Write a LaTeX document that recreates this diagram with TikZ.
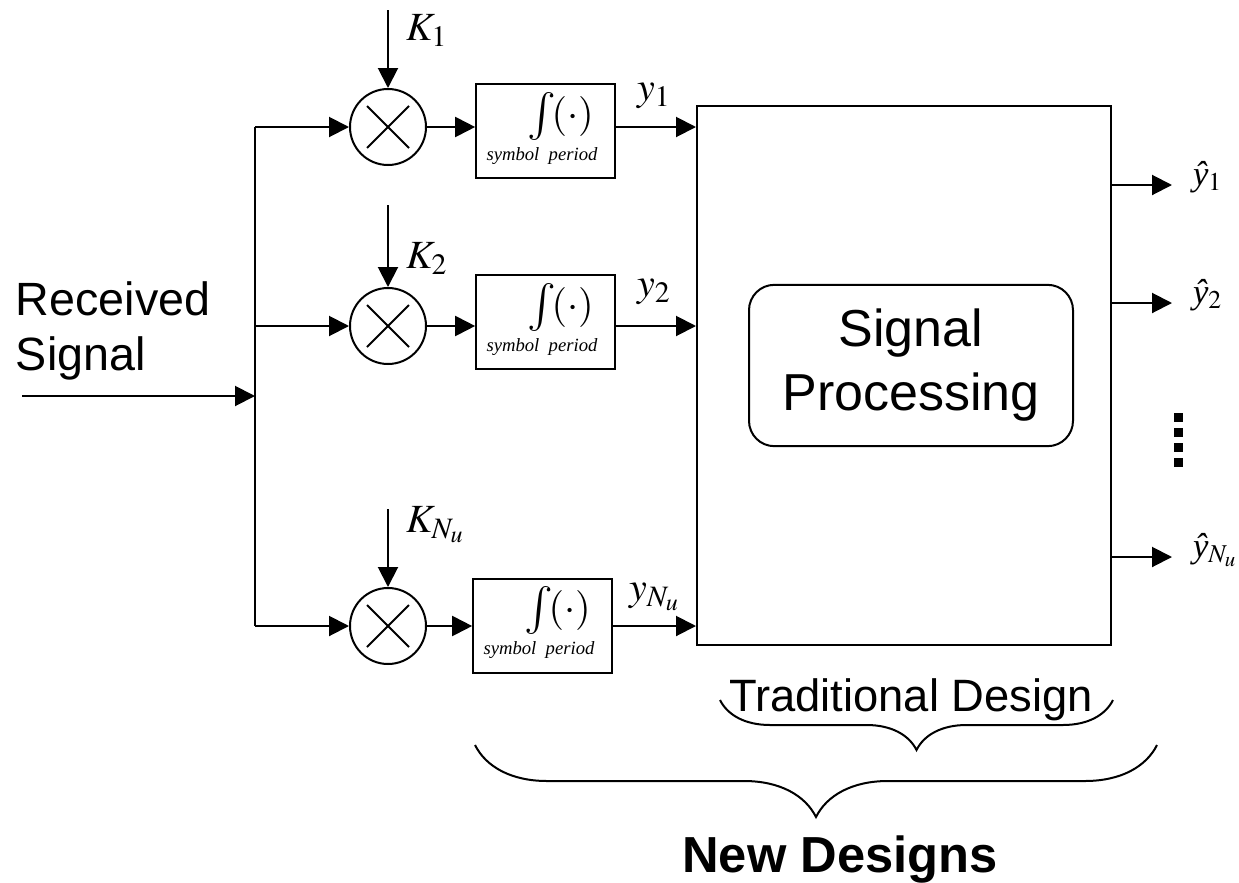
\documentclass[tikz,border=0pt]{standalone}
\usepackage{mathptmx}
\usepackage[no-math]{fontspec}
\setmainfont{Liberation Sans}
\newfontfamily\tmsfont{Liberation Serif}
\usetikzlibrary{arrows.meta,decorations.pathreplacing,calc}

\newcommand{\bigint}{\vcenter{\hbox{\fontsize{36}{40}\selectfont$\int$}}}
\newcommand{\yhat}{{\tmsfont\itshape ŷ}}

\tikzset{
  mixer/.style={circle,draw,minimum size=57pt,inner sep=0pt,
    path picture={
      \draw ([shift={(-15.75pt,-15.75pt)}]path picture bounding box.center) -- ([shift={(15.75pt,15.75pt)}]path picture bounding box.center);
      \draw ([shift={(-15.75pt,15.75pt)}]path picture bounding box.center) -- ([shift={(15.75pt,-15.75pt)}]path picture bounding box.center);
    }},
  integ/.style={draw,minimum width=104pt,minimum height=70.5pt,inner sep=0pt},
  intsym/.style={inner sep=0pt,font=\fontsize{30}{34}\selectfont},
  intsub/.style={inner sep=0pt,font=\tmsfont\itshape\fontsize{14}{16}\selectfont},
  mlbl/.style={anchor=base west,inner sep=0pt,font=\fontsize{30}{34}\selectfont},
  hlbl/.style={anchor=base west,inner sep=0pt,font=\fontsize{26}{30}\selectfont},
  bigtext/.style={inner sep=0pt,align=center}
}

\begin{document}
\begin{tikzpicture}[x=0.75pt,y=-0.75pt,line width=1.5pt,>={Triangle[length=15pt,width=15pt]}]
\useasboundingbox (0,0) rectangle (1239,882);

% received signal and branches
\node[bigtext,anchor=north west,align=left,font=\fontsize{35}{41}\selectfont] (rx) at (15,281) {Received\\Signal};
\coordinate (in) at (22,396);
\coordinate (br) at (255,396);
\draw[->] (in) -- (br);

\node[mixer] (mix1) at (388,127) {};
\node[mixer] (mix2) at (388,326) {};
\node[mixer] (mix3) at (388,626) {};
\draw (br |- mix1) -- (br |- mix3);
\draw[->] (br |- mix1) -- (mix1);
\draw[->] (br |- mix2) -- (mix2);
\draw[->] (br |- mix3) -- (mix3);

% spreading codes
\coordinate (k1) at (388,10);
\coordinate (k2) at (388,205);
\coordinate (k3) at (388,509);
\draw[->] (k1) -- (mix1);
\draw[->] (k2) -- (mix2);
\draw[->] (k3) -- (mix3);
\node[mlbl] (k1lbl) at (405,40) {$K_1$};
\node[mlbl] (k2lbl) at (405,268) {$K_2$};
\node[mlbl] (k3lbl) at (405,532) {$K_{N_u}$};

% integrators
\node[integ] (int1) at (545.5,131) {};
\node[intsym] (int1a) at ($(int1)+(15,-15)$) {$\bigint\!(\cdot)$};
\node[intsub] (int1b) at ($(int1)+(-3.5,25)$) {symbol\ \ period};
\node[integ] (int2) at (545.5,322) {};
\node[intsym] (int2a) at ($(int2)+(15,-15)$) {$\bigint\!(\cdot)$};
\node[intsub] (int2b) at ($(int2)+(-3.5,25)$) {symbol\ \ period};
\node[integ] (int3) at (542.5,625.5) {};
\node[intsym] (int3a) at ($(int3)+(15,-15)$) {$\bigint\!(\cdot)$};
\node[intsub] (int3b) at ($(int3)+(-3.5,25)$) {symbol\ \ period};
\draw[->] (mix1) -- (mix1 -| int1.west);
\draw[->] (mix2) -- (mix2 -| int2.west);
\draw[->] (mix3) -- (mix3 -| int3.west);

% processing block
\node[draw,minimum width=310.5pt,minimum height=404pt,inner sep=0pt] (proc) at (904,375.5) {};
\node[draw,bigtext,rounded corners=19pt,minimum width=243pt,minimum height=121pt,font=\fontsize{39}{48}\selectfont] (sp) at (911,365.5) {Signal\\Processing};
\draw[->] (mix1 -| int1.east) -- (mix1 -| proc.west);
\draw[->] (mix2 -| int2.east) -- (mix2 -| proc.west);
\draw[->] (mix3 -| int3.east) -- (mix3 -| proc.west);
\node[mlbl] (y1lbl) at (636,100) {$y_1$};
\node[mlbl] (y2lbl) at (636,296) {$y_2$};
\node[mlbl] (y3lbl) at (628,600) {$y_{N_u}$};

% outputs
\coordinate (o1) at (1172,185);
\coordinate (o2) at (1172,303);
\coordinate (o3) at (1172,557);
\draw[->] (o1 -| proc.east) -- (o1);
\draw[->] (o2 -| proc.east) -- (o2);
\draw[->] (o3 -| proc.east) -- (o3);
\node[hlbl] (h1) at (1192,185) {\yhat$_1$};
\node[hlbl] (h2) at (1192,303) {\yhat$_2$};
\node[hlbl] (h3) at (1192,557) {\yhat$_{N_u}$};
\fill (1174,412.5) rectangle (1183,421.5);
\fill (1174,427.5) rectangle (1183,436.5);
\fill (1174,442.5) rectangle (1183,451.5);
\fill (1174,457.5) rectangle (1183,466.5);

% braces
\coordinate (b1l) at (720,700);
\coordinate (b1r) at (1113,700);
\coordinate (b2l) at (475,745);
\coordinate (b2r) at (1157,745);
\draw[decorate,decoration={brace,mirror,amplitude=37.5pt}] (b1l) -- (b1r);
\draw[decorate,decoration={brace,mirror,amplitude=54pt}] (b2l) -- (b2r);
\node[bigtext,anchor=base,font=\fontsize{34}{40}\selectfont] (trad) at (911,711) {Traditional Design};
\node[bigtext,anchor=base,font=\bfseries\fontsize{38}{44}\selectfont] (newd) at (840,872) {New Designs};
\end{tikzpicture}
\end{document}
